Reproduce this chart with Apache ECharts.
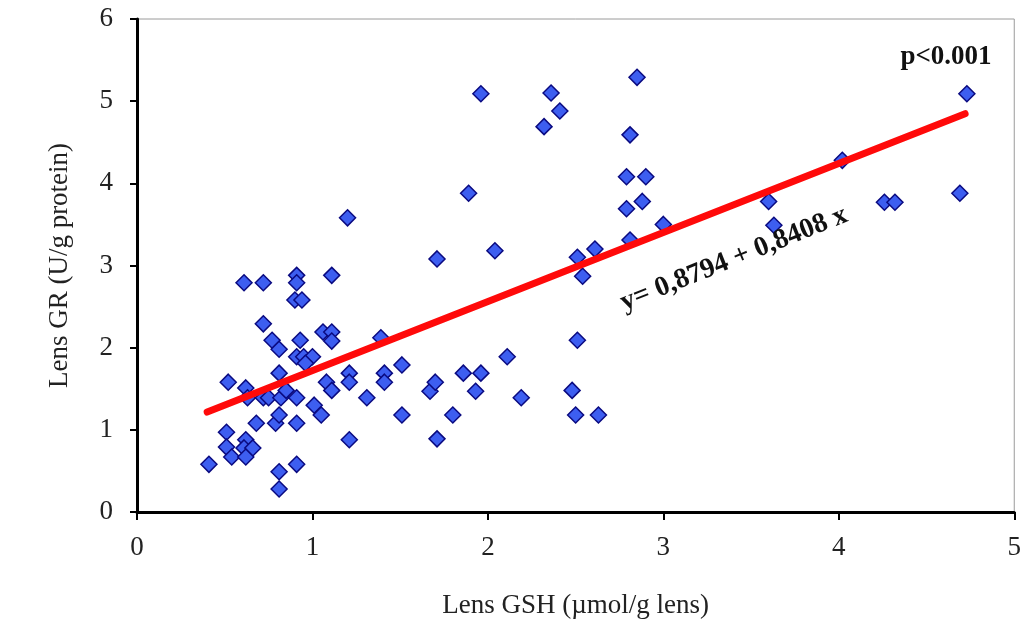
<!DOCTYPE html>
<html>
<head>
<meta charset="utf-8">
<script src="https://cdn.jsdelivr.net/npm/echarts@6/dist/echarts.min.js"></script>
<style>
html,body{margin:0;padding:0;background:#fff;}
#chart{width:1024px;height:626px;}
</style>
</head>
<body>
<div id="chart"></div>
<script>
// Lens GSH (x) vs Lens GR (y)
var gshValues = [0.41,0.51,0.52,0.51,0.54,0.61,0.62,0.61,0.66,0.62,0.62,0.63,0.68,0.72,0.72,0.72,0.75,0.77,0.81,0.81,0.82,0.85,0.79,0.81,0.81,0.81,0.91,0.91,0.90,0.94,0.93,0.91,0.95,1.00,0.96,0.91,0.91,0.91,1.01,1.05,1.06,1.11,1.11,1.11,1.08,1.11,1.20,1.21,1.21,1.21,1.31,1.39,1.41,1.41,1.51,1.51,1.67,1.70,1.71,1.71,1.80,1.86,1.89,1.93,1.96,1.96,2.04,2.11,2.19,2.32,2.36,2.41,2.48,2.50,2.51,2.51,2.54,2.61,2.63,2.79,2.90,2.79,2.88,2.81,2.85,2.81,3.00,3.60,3.63,4.02,4.26,4.32,4.69,4.73];
var grValues  = [0.58,0.97,1.58,0.79,0.67,2.79,0.88,0.78,0.78,0.67,1.51,1.39,1.08,2.79,2.29,1.39,1.39,2.09,1.98,1.69,1.39,1.48,1.08,1.18,0.49,0.28,2.88,2.79,2.58,2.58,2.09,1.89,1.89,1.89,1.81,1.39,1.08,0.58,1.30,1.18,2.19,2.19,2.08,2.88,1.58,1.48,3.58,1.69,1.58,0.88,1.39,2.12,1.69,1.58,1.79,1.18,1.47,1.58,3.08,0.89,1.18,1.69,3.88,1.47,1.69,5.09,3.18,1.89,1.39,4.69,5.10,4.88,1.48,1.18,2.09,3.10,2.87,3.20,1.18,4.08,4.08,3.69,3.78,4.59,5.29,3.31,3.50,3.78,3.49,4.28,3.77,3.77,3.88,5.09];
var fitIntercept = 0.8794;
var fitSlope = 0.8408;
var fitRange = [0.4, 4.72];
var xTicks = [0,1,2,3,4,5];
var yTicks = [0,1,2,3,4,5,6];
var xTitle = 'Lens GSH (µmol/g lens)';
var yTitle = 'Lens GR (U/g protein)';
var eqText = 'y= 0,8794 + 0,8408 x';
var pText = 'p<0.001';

var points = gshValues.map(function(x,i){return [x, grValues[i]];});
var fitLine = fitRange.map(function(x){return [x, fitIntercept + fitSlope*x];});

var serif = '"Liberation Serif","DejaVu Serif",serif';
var chart = echarts.init(document.getElementById('chart'));
chart.setOption({
  animation:false,
  backgroundColor:'#fff',
  grid:{left:137,top:19,right:6,bottom:114,show:true,borderColor:'#9a9a9a',borderWidth:1,backgroundColor:'transparent'},
  xAxis:{type:'value',min:xTicks[0],max:xTicks[xTicks.length-1],interval:1,
    name:xTitle,nameLocation:'middle',nameGap:80,
    nameTextStyle:{fontFamily:serif,fontSize:27,color:'#222'},
    axisLine:{show:true,onZero:false,lineStyle:{color:'#000',width:3}},
    axisTick:{show:true,length:8,lineStyle:{color:'#000',width:2}},
    axisLabel:{fontFamily:serif,fontSize:27,color:'#222',margin:22},
    splitLine:{show:false}},
  yAxis:{type:'value',min:yTicks[0],max:yTicks[yTicks.length-1],interval:1,
    name:yTitle,nameLocation:'middle',nameGap:64,nameRotate:90,
    nameTextStyle:{fontFamily:serif,fontSize:27,color:'#222'},
    axisLine:{show:true,onZero:false,lineStyle:{color:'#000',width:3}},
    axisTick:{show:true,length:7,lineStyle:{color:'#000',width:2}},
    axisLabel:{fontFamily:serif,fontSize:27,color:'#222',margin:24},
    splitLine:{show:false}},
  series:[
    {type:'scatter',data:points,symbol:'diamond',symbolSize:16,z:2,
      itemStyle:{color:'#3d5ef0',borderColor:'#0a0a80',borderWidth:1.5,opacity:1}},
    {type:'line',data:fitLine,symbol:'none',z:3,
      lineStyle:{color:'#ff0a0a',width:7,cap:'round'}}
  ],
  graphic:[
    {type:'text',x:946,y:57,z:10,style:{text:pText,fontFamily:serif,fontSize:27,fontWeight:'bold',fill:'#111',align:'center',verticalAlign:'middle'}},
    {type:'text',x:734,y:259,rotation:0.38,z:10,
      style:{text:eqText,fontFamily:serif,fontSize:28,fontWeight:'bold',fill:'#111',align:'center',verticalAlign:'middle'}}
  ]
});
</script>
</body>
</html>
